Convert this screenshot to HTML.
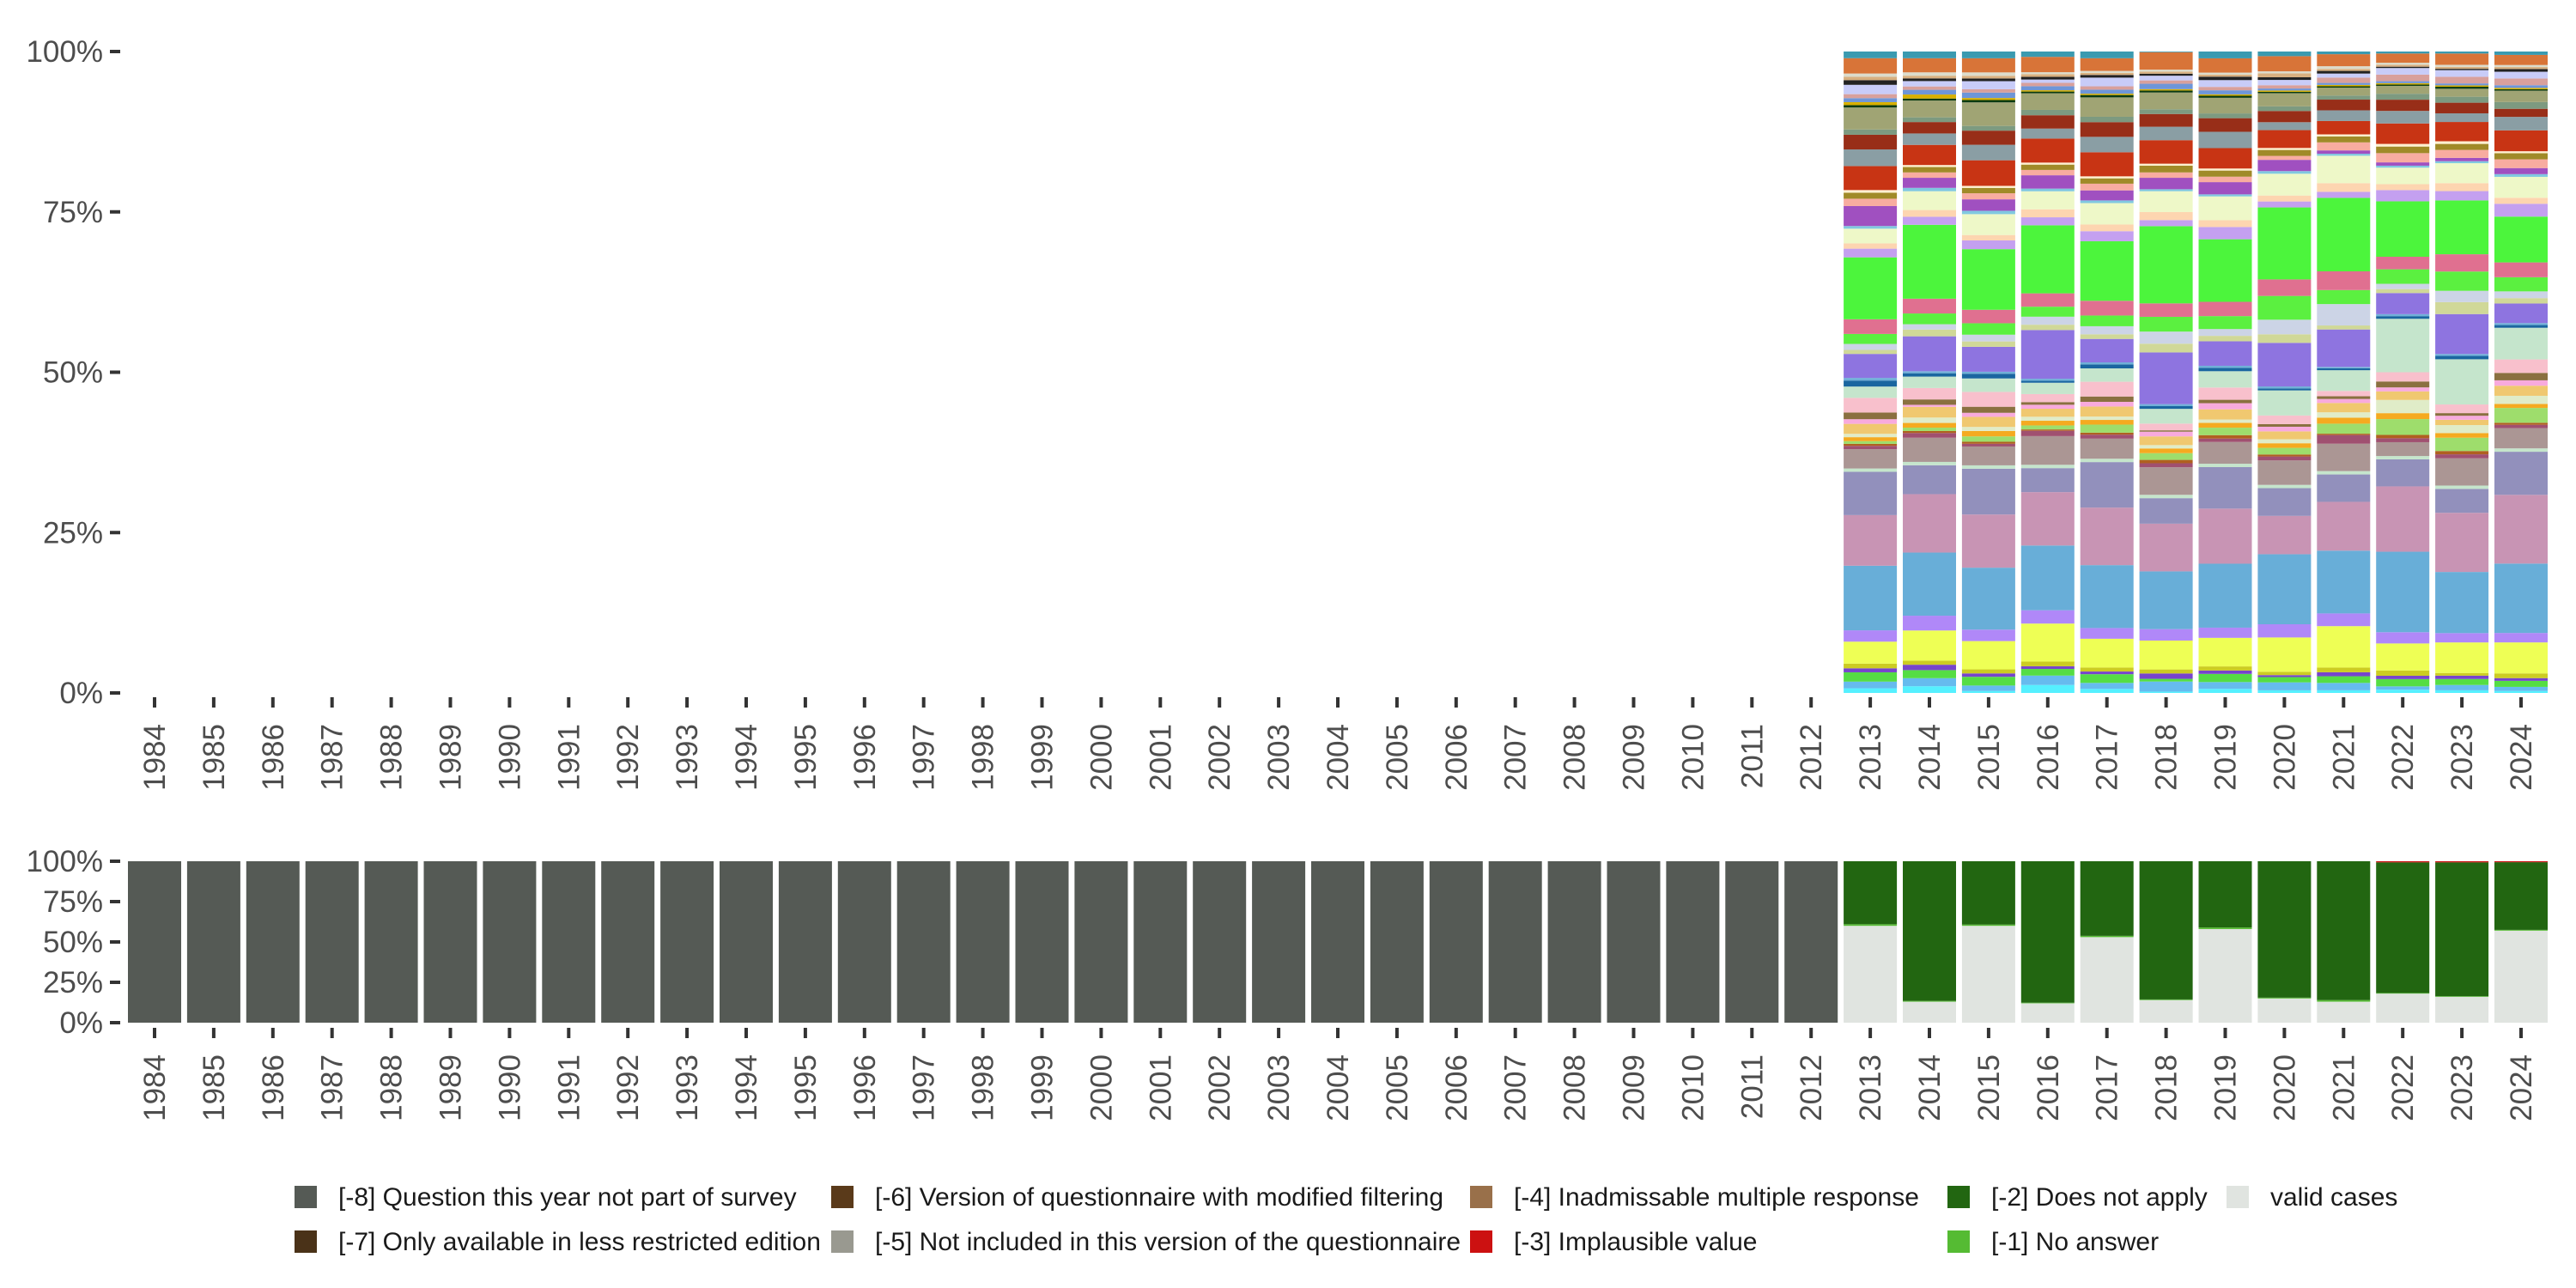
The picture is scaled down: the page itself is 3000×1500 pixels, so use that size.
<!DOCTYPE html>
<html><head><meta charset="utf-8"><style>
html,body{margin:0;padding:0;background:#fff;}
svg{display:block;font-family:"Liberation Sans","DejaVu Sans",sans-serif;}
</style></head><body>
<svg id="chart" width="3000" height="1500" viewBox="0 0 3000 1500" xmlns="http://www.w3.org/2000/svg">
<g id="top"></g>
<g id="bot"></g>
<g id="legend"></g>
</svg>
<script>
const years = [];
for (let y = 1984; y <= 2024; y++) years.push(y);
const topYears = [2013,2014,2015,2016,2017,2018,2019,2020,2021,2022,2023,2024];
const yTicks = [0,25,50,75,100];
const yTickLabels = ["0%","25%","50%","75%","100%"];

const topColors = ["#55f0ff","#66bbee","#55dd44","#7744cc","#cccc22","#eeff55","#b088f8","#68aed8","#c894b4","#9290bc","#c5e5cc","#ab9694","#a05070","#b06020","#9edd6c","#f5aa20","#e0ecc8","#f0c870","#f8aadd","#8a7040","#f8c0cc","#c5e5cc","#1a66a0","#70b0d8","#8e74e0","#d0d898","#ccd4e6","#5bf040","#e07090","#4cf53c","#c4a0f0","#fdd5b0","#eef8c8","#80c8e0","#a050c0","#f8aca0","#a08a28","#fff0d0","#c83414","#8a9ea4","#982e18","#7d9a80","#a0a474","#0a3a10","#d8b000","#6e96d8","#d8a09c","#c8ccf8","#222222","#d8b080","#dcdccc","#d87438","#3a9ab0"];
const topValues = [
[0.7,1.0,0.3,1.2,0.6,0.2,0.6,0.4,0.4,0.5,0.4,0.3],
[1.0,1.2,0.8,1.4,0.9,1.5,1.0,1.2,1.1,0.5,0.8,0.6],
[1.4,1.2,1.3,1.0,1.3,0.4,1.2,0.8,1.0,1.1,0.9,0.9],
[0.6,0.8,0.5,0.4,0.4,0.8,0.5,0.3,0.6,0.5,0.5,0.4],
[0.7,0.6,0.6,0.7,0.6,0.6,0.6,0.5,0.7,0.8,0.4,0.7],
[3.3,4.5,4.2,5.7,4.3,4.3,4.2,5.2,6.2,4.1,4.6,4.6],
[1.7,2.2,1.7,2.0,1.6,1.7,1.5,2.0,1.9,1.7,1.4,1.4],
[9.7,9.4,9.2,9.7,9.4,8.6,9.4,10.6,9.4,12.2,9.2,10.3],
[7.6,8.7,7.9,8.0,8.6,7.1,8.1,5.8,7.3,9.9,8.9,10.2],
[6.5,4.3,6.8,3.6,6.8,3.8,6.1,4.2,4.1,4.1,3.6,6.4],
[0.5,0.5,0.5,0.5,0.5,0.5,0.5,0.5,0.5,0.5,0.5,0.5],
[2.9,3.6,2.8,4.3,3.0,4.1,3.2,3.7,4.1,2.1,4.1,3.0],
[0.5,0.7,0.4,0.8,0.6,0.6,0.5,0.6,1.3,0.6,0.6,0.5],
[0.3,0.3,0.3,0.2,0.3,0.5,0.5,0.3,0.2,0.5,0.5,0.3],
[0.4,0.5,0.8,0.6,1.2,1.0,1.1,1.0,1.5,2.4,2.0,2.2],
[0.6,0.7,0.8,0.7,0.7,0.7,0.7,0.7,0.9,0.9,0.7,0.6],
[0.5,0.8,0.6,0.6,0.5,0.5,0.5,0.6,0.8,2.0,1.2,1.2],
[1.5,1.6,1.5,1.2,1.5,1.3,1.5,1.2,1.4,1.3,0.8,1.5],
[0.7,0.3,0.6,0.6,0.7,0.7,0.9,0.7,0.6,0.6,0.6,0.8],
[1.0,0.8,0.9,0.4,0.8,0.2,0.5,0.4,0.4,0.9,0.4,1.1],
[2.2,1.7,2.2,1.2,2.2,1.0,1.8,1.3,0.8,1.4,1.3,2.0],
[1.7,1.7,2.0,1.7,2.0,2.2,2.4,3.8,3.1,8.1,6.8,4.7],
[0.9,0.5,0.7,0.3,0.6,0.4,0.5,0.3,0.3,0.4,0.5,0.4],
[0.4,0.3,0.3,0.3,0.3,0.3,0.3,0.3,0.2,0.3,0.3,0.3],
[3.6,5.2,3.7,7.3,3.5,7.7,3.6,6.6,5.6,3.2,6.0,2.9],
[0.6,1.0,0.8,0.8,0.7,1.3,0.8,1.3,0.6,0.6,1.8,0.8],
[0.9,0.8,1.0,1.2,1.2,1.8,1.0,2.2,3.2,0.8,1.7,1.0],
[1.5,1.6,1.7,1.5,1.6,2.2,1.9,3.6,2.1,2.2,2.9,2.1],
[2.2,2.2,2.0,2.0,2.2,2.0,2.1,2.5,2.8,1.9,2.6,2.2],
[9.3,11.0,9.0,10.2,8.9,11.5,9.2,10.9,11.0,8.4,8.1,6.8],
[1.3,1.2,1.3,1.2,1.5,0.9,1.8,0.9,0.9,1.7,1.4,1.9],
[0.8,1.0,0.8,1.2,1.0,1.2,1.0,0.9,1.3,0.9,1.2,0.9],
[2.2,2.8,3.1,2.7,3.2,3.1,3.5,3.3,4.1,2.5,3.0,3.1],
[0.4,0.5,0.5,0.4,0.4,0.3,0.3,0.4,0.3,0.3,0.3,0.4],
[3.0,1.5,1.7,2.0,1.5,1.7,1.8,1.7,0.5,0.5,0.5,0.9],
[1.1,0.8,0.9,0.8,1.0,0.8,0.8,0.6,1.2,1.4,1.2,1.3],
[0.9,0.8,0.8,0.8,0.8,1.0,0.9,0.9,0.9,1.0,0.9,0.9],
[0.4,0.3,0.3,0.3,0.3,0.3,0.3,0.3,0.3,0.4,0.4,0.3],
[3.6,3.0,3.8,3.6,3.6,3.5,3.0,2.7,2.0,3.1,2.9,3.1],
[2.5,1.7,2.3,1.5,2.3,2.0,2.4,1.2,1.6,1.9,1.3,2.0],
[2.2,1.7,2.1,2.0,2.2,1.9,2.0,1.7,1.6,1.7,1.6,1.2],
[0.8,0.7,0.7,0.8,0.8,0.7,0.7,0.7,0.6,0.9,0.9,1.0],
[3.3,2.5,3.5,2.5,2.9,2.5,2.3,2.0,1.2,1.2,1.2,1.7],
[0.35,0.3,0.35,0.25,0.35,0.3,0.3,0.2,0.2,0.2,0.3,0.2],
[0.45,0.6,0.3,0.2,0.2,0.2,0.2,0.2,0.2,0.2,0.2,0.2],
[0.6,0.7,0.8,0.6,0.6,0.8,0.6,0.3,0.3,0.3,0.3,0.4],
[0.6,0.5,0.5,0.5,0.5,0.5,0.5,0.5,0.8,1.0,1.0,1.0],
[1.4,0.8,1.2,0.5,1.3,0.7,1.0,0.8,0.6,1.0,1.0,1.0],
[0.7,0.4,0.4,0.4,0.4,0.3,0.5,0.4,0.4,0.2,0.2,0.4],
[0.5,0.4,0.4,0.4,0.3,0.3,0.3,0.6,0.3,0.3,0.3,0.3],
[0.5,0.5,0.5,0.3,0.3,0.3,0.3,0.3,0.4,0.3,0.3,0.3],
[2.3,2.1,2.1,2.3,1.9,2.6,2.1,2.3,1.8,1.4,1.7,1.5],
[1.0,1.0,1.0,0.8,1.0,0.1,1.0,0.7,0.4,0.3,0.3,0.5]
];

const botColors = ["#e0e4e0","#55bb33","#226611","#cc1111","#555a55"];
const validVals = [60,13,60,12,53,14,58,15,13,18,16,57];
const noAnswerVals = [1,0.5,0.8,0.4,0.8,0.4,1,0.5,1,0.4,0.4,0.5];
const implausibleVals = [0,0,0,0,0,0,0,0,0,0.7,0.7,0.6];
const notInSurveyVal = 100;

const svgNS = "http://www.w3.org/2000/svg";
function mk(parent, tag, attrs, text) {
  const e = document.createElementNS(svgNS, tag);
  for (const k in attrs) e.setAttribute(k, attrs[k]);
  if (text !== undefined) e.textContent = text;
  parent.appendChild(e);
  return e;
}
const x0 = 180, pitch = 68.9, bw = 62;
function xScale(year) { return x0 + (year - 1984) * pitch; }
function yTop(v) { return 807 - v * 7.47; }
function yBot(v) { return 1191 - v * 1.88; }

function axes(g, yS, tickY0, labelY, prefix) {
  yTicks.forEach((t, i) => {
    const y = yS(t);
    const tk = mk(g, "line", {x1:128, x2:140, y1:y, y2:y, stroke:"#333", "stroke-width":4});
    
    
    const lb = mk(g, "text", {x:120, y:y+12, "text-anchor":"end", "font-size":35, fill:"#4d4d4d"}, yTickLabels[i]);
    
    
  });
  years.forEach(yr => {
    const x = xScale(yr);
    const tk = mk(g, "line", {x1:x, x2:x, y1:tickY0, y2:tickY0+12, stroke:"#333", "stroke-width":4});
    
    
    const lb = mk(g, "text", {x:0, y:0, "text-anchor":"end", "font-size":35, fill:"#4d4d4d",
      transform:"translate(" + (x + 12) + "," + labelY + ") rotate(-90)"}, String(yr));
    
    
  });
}

const gt = document.getElementById("top");
topYears.forEach((yr, j) => {
  let total = 0;
  topValues.forEach(s => total += s[j]);
  let cum = 0;
  topValues.forEach((s, k) => {
    const v = s[j] / total * 100;
    const r = mk(gt, "rect", {x:xScale(yr) - bw/2, y:yTop(cum + v), width:bw, height:Math.max(0, yTop(cum) - yTop(cum + v)), fill:topColors[k]});
    
    
    cum += v;
  });
});
axes(gt, yTop, 812, 843, "top");

const gb = document.getElementById("bot");
years.forEach(yr => {
  const j = topYears.indexOf(yr);
  let segs;
  if (j < 0) segs = [0,0,0,0,notInSurveyVal];
  else {
    const rest = 100 - validVals[j] - noAnswerVals[j] - implausibleVals[j];
    segs = [validVals[j], noAnswerVals[j], rest, implausibleVals[j], 0];
  }
  let cum = 0;
  segs.forEach((v, k) => {
    if (v <= 0) return;
    const r = mk(gb, "rect", {x:xScale(yr) - bw/2, y:yBot(cum + v), width:bw, height:yBot(cum) - yBot(cum + v), fill:botColors[k]});
    
    
    cum += v;
  });
});
axes(gb, yBot, 1197, 1228, "bottom");

const gl = document.getElementById("legend");
const legendItems = [
  ["#555a55","[-8] Question this year not part of survey",356,1394],
  ["#4a3218","[-7] Only available in less restricted edition",356,1446],
  ["#5a3a1a","[-6] Version of questionnaire with modified filtering",981,1394],
  ["#999990","[-5] Not included in this version of the questionnaire",981,1446],
  ["#99704a","[-4] Inadmissable multiple response",1725,1394],
  ["#cc1111","[-3] Implausible value",1725,1446],
  ["#226611","[-2] Does not apply",2281,1394],
  ["#55bb33","[-1] No answer",2281,1446],
  ["#e0e4e0","valid cases",2606,1394]
];
legendItems.forEach(it => {
  const k = mk(gl, "rect", {x:it[2] - 13, y:it[3] - 13, width:26, height:26, fill:it[0]});
  
  
  const t = mk(gl, "text", {x:it[2] + 38, y:it[3] + 10, "font-size":30, fill:"#1a1a1a"}, it[1]);
  
  
});
</script>
</body></html>
